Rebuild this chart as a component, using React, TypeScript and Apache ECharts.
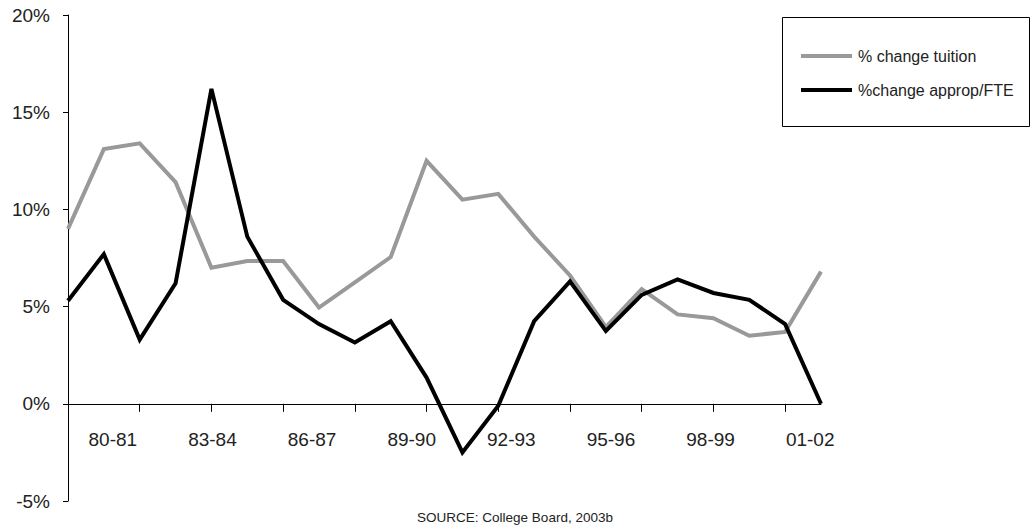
import React, { useEffect, useRef } from "react";
import * as echarts from "echarts";

const categories = [
  "80-81", "81-82", "82-83", "83-84", "84-85", "85-86", "86-87", "87-88",
  "88-89", "89-90", "90-91", "91-92", "92-93", "93-94", "94-95", "95-96",
  "96-97", "97-98", "98-99", "99-00", "00-01", "01-02",
];
const tickLabels = ["80-81", "83-84", "86-87", "89-90", "92-93", "95-96", "98-99", "01-02"];
const tuition = [9.0, 13.1, 13.4, 11.4, 7.0, 7.35, 7.35, 4.95, 6.25, 7.55, 12.5, 10.5, 10.8, 8.6, 6.6, 3.95, 5.9, 4.6, 4.4, 3.5, 3.7, 6.8];
const approp = [5.3, 7.7, 3.3, 6.2, 16.2, 8.6, 5.35, 4.1, 3.15, 4.25, 1.35, -2.5, -0.1, 4.25, 6.3, 3.75, 5.6, 6.4, 5.7, 5.35, 4.1, 0.0];
const yTicks = { min: -5, max: 20, interval: 5 };
const seriesNames = ["% change tuition", "%change approp/FTE"];
const sourceText = "SOURCE: College Board, 2003b";

const FONT = "'Liberation Sans', Arial, sans-serif";
const TEXT = "#222222";

export default function App() {
  const ref = useRef<HTMLDivElement>(null);
  useEffect(() => {
    document.body.style.margin = "0";
    if (!ref.current) return;
    const chart = echarts.init(ref.current, undefined, { renderer: "svg" });
    chart.setOption({
      animation: false,
      backgroundColor: "#ffffff",
      textStyle: { fontFamily: FONT },
      grid: [
        { left: 68, top: 15, width: 753, height: 486 },
        { left: 63, top: 15, width: 797, height: 389 },
      ],
      xAxis: [
        {
          type: "category",
          gridIndex: 0,
          data: categories,
          boundaryGap: false,
          axisLine: { show: true, onZero: true, lineStyle: { color: "#000", width: 1 } },
          axisTick: { show: true, interval: 1, length: 8, lineStyle: { color: "#000" } },
          axisLabel: { show: false },
          splitLine: { show: false },
        },
        {
          type: "category",
          gridIndex: 1,
          data: tickLabels,
          boundaryGap: true,
          axisLine: { show: false },
          axisTick: { show: false },
          axisLabel: { show: true, interval: 0, margin: 26, fontSize: 19, color: TEXT, fontFamily: FONT },
          splitLine: { show: false },
        },
      ],
      yAxis: [
        {
          type: "value",
          gridIndex: 0,
          min: yTicks.min,
          max: yTicks.max,
          interval: yTicks.interval,
          axisLine: { show: true, lineStyle: { color: "#000", width: 1 } },
          axisTick: { show: true, length: 5, lineStyle: { color: "#000" } },
          axisLabel: { formatter: "{value}%", fontSize: 19, color: TEXT, margin: 18, fontFamily: FONT },
          splitLine: { show: false },
        },
        { type: "value", gridIndex: 1, min: 0, max: 1, show: false },
      ],
      legend: {
        orient: "vertical",
        left: 801,
        top: 46,
        padding: 0,
        itemGap: 14,
        itemWidth: 51,
        itemHeight: 4,
        icon: "rect",
        textStyle: { fontSize: 16, color: TEXT, fontFamily: FONT, lineHeight: 20, padding: [0, 0, 0, 1] },
        data: seriesNames,
      },
      graphic: [
        {
          type: "rect",
          shape: { x: 782.5, y: 17.5, width: 247, height: 109 },
          style: { fill: "none", stroke: "#000", lineWidth: 1 },
          silent: true,
        },
        {
          type: "text",
          x: 515,
          y: 517,
          style: { text: sourceText, fontSize: 13.5, fill: TEXT, fontFamily: FONT, align: "center", verticalAlign: "middle" },
        },
      ],
      series: [
        {
          name: seriesNames[0],
          type: "line",
          xAxisIndex: 0,
          yAxisIndex: 0,
          data: tuition,
          symbol: "none",
          lineStyle: { color: "#999999", width: 4, join: "miter" },
          itemStyle: { color: "#999999" },
        },
        {
          name: seriesNames[1],
          type: "line",
          xAxisIndex: 0,
          yAxisIndex: 0,
          data: approp,
          symbol: "none",
          lineStyle: { color: "#000000", width: 4, join: "miter" },
          itemStyle: { color: "#000000" },
        },
      ],
    });
    return () => chart.dispose();
  }, []);
  return <div ref={ref} style={{ width: 1033, height: 529 }} />;
}
